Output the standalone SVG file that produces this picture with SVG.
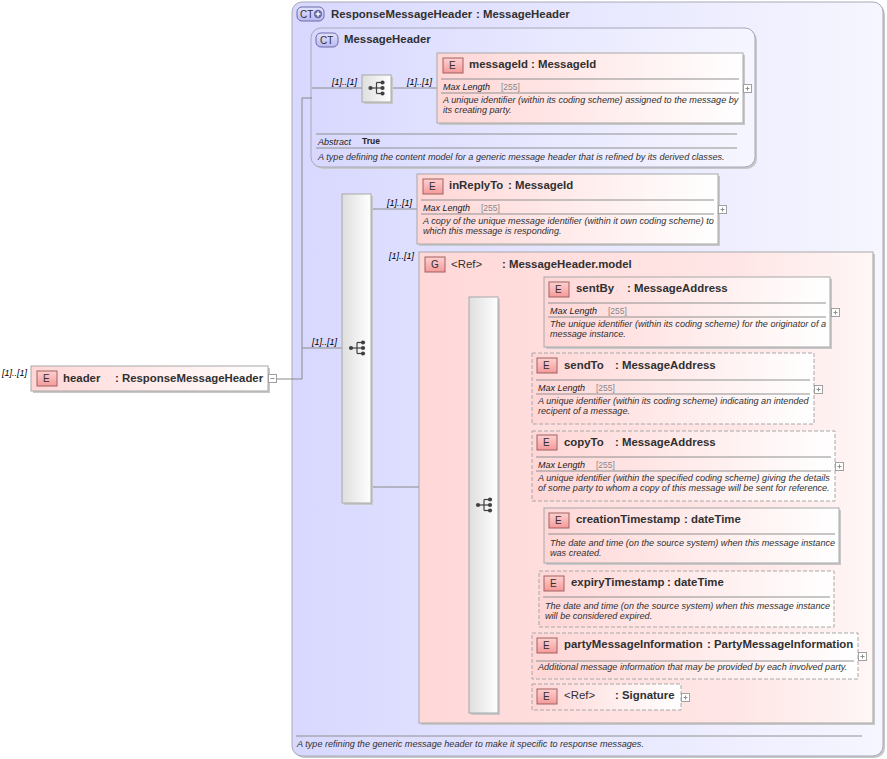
<svg xmlns="http://www.w3.org/2000/svg" width="887" height="759" viewBox="0 0 887 759">
<defs>
<linearGradient id="gCT" x1="0" y1="0" x2="1" y2="0"><stop offset="0" stop-color="#d8d8ff"/><stop offset="1" stop-color="#f6f6ff"/></linearGradient>
<linearGradient id="gE" x1="0" y1="0" x2="1" y2="0"><stop offset="0" stop-color="#ffd6d6"/><stop offset="1" stop-color="#ffffff"/></linearGradient>
<linearGradient id="gG" x1="0" y1="0" x2="1" y2="0"><stop offset="0" stop-color="#ffd8d8"/><stop offset="0.7" stop-color="#ffe6e6"/><stop offset="1" stop-color="#fff6f6"/></linearGradient>
<linearGradient id="gSeq" x1="0" y1="0" x2="1" y2="0"><stop offset="0" stop-color="#dedede"/><stop offset="1" stop-color="#ffffff"/></linearGradient>
<linearGradient id="gBadge" x1="0" y1="0" x2="0" y2="1"><stop offset="0" stop-color="#ffd0d0"/><stop offset="1" stop-color="#f59a9a"/></linearGradient>
<linearGradient id="gCTb" x1="0" y1="0" x2="0" y2="1"><stop offset="0" stop-color="#e4e4ff"/><stop offset="1" stop-color="#b8b8f0"/></linearGradient>
<g id="seqIcon" stroke="#404040" stroke-width="1.2" fill="#404040">
<line x1="-7" y1="0" x2="-1" y2="0"/>
<line x1="-1" y1="-5.5" x2="-1" y2="5.5"/>
<line x1="-1" y1="-5.5" x2="5" y2="-5.5"/>
<line x1="-1" y1="0" x2="5" y2="0"/>
<line x1="-1" y1="5.5" x2="5" y2="5.5"/>
<circle cx="-7" cy="0" r="2.1" stroke="none"/>
<circle cx="5" cy="-5.5" r="2.1" stroke="none"/>
<circle cx="5" cy="0" r="2.1" stroke="none"/>
<circle cx="5" cy="5.5" r="2.1" stroke="none"/>
</g>
<g id="plus" stroke="#909090" stroke-width="1">
<rect x="0.5" y="0.5" width="8" height="8" fill="#fff" stroke="#a0a0a0"/>
<line x1="2.5" y1="4.5" x2="6.5" y2="4.5"/>
<line x1="4.5" y1="2.5" x2="4.5" y2="6.5"/>
</g>
</defs>
<style>
text{font-family:"Liberation Sans",Arial,sans-serif;fill:#202020}
.t{font-size:11.4px;font-weight:bold;fill:#303030}
.r{font-size:11.4px;fill:#303030}
.ml{font-size:9px;font-style:italic;fill:#202020}
.mv{font-size:8.5px;fill:#888888}
.d{font-size:9.1px;font-style:italic;fill:#303030}
.lb{font-size:9px;font-style:italic;fill:#000}
.bt{font-size:10px;fill:#303030}
.box{fill:url(#gE);stroke:#a8a8a8;stroke-width:1}
.dash{fill:url(#gE);stroke:#a8a8a8;stroke-width:1;stroke-dasharray:4,2}
.sh{fill:#c8c8c8}
.sep{stroke:#909090;stroke-width:1}
.badge{fill:url(#gBadge);stroke:#a06060;stroke-width:1}
.ctb{fill:url(#gCTb);stroke:#6a6aa8;stroke-width:1}
.seq{fill:url(#gSeq);stroke:#a8a8a8;stroke-width:1}
.con{stroke:#8a8a8a;stroke-width:1;fill:none}
</style>

<!-- Outer CT box -->
<g id="ct-ResponseMessageHeader">
<rect x="294" y="4" width="591" height="754" rx="10" class="sh"/>
<rect x="292" y="2" width="591" height="754" rx="10" fill="url(#gCT)" stroke="#a8a8b8"/>
<rect x="297" y="7" width="27" height="14" rx="5" class="ctb"/>
<text x="300" y="18" class="bt">CT</text>
<circle cx="318" cy="14" r="4.2" fill="#6a6aa8"/>
<line x1="315.5" y1="14" x2="320.5" y2="14" stroke="#fff" stroke-width="1.4"/>
<line x1="318" y1="11.5" x2="318" y2="16.5" stroke="#fff" stroke-width="1.4"/>
<text x="331" y="18" class="t">ResponseMessageHeader</text>
<text x="476" y="18" class="t">: MessageHeader</text>
<line x1="296" y1="736" x2="862" y2="736" class="sep"/>
<text x="297" y="747" class="d">A type refining the generic message header to make it specific to response messages.</text>
</g>

<!-- Inner CT box -->
<g id="ct-MessageHeader">
<rect x="313" y="30" width="444" height="139" rx="10" class="sh"/>
<rect x="311" y="28" width="444" height="139" rx="10" fill="url(#gCT)" stroke="#a8a8b8"/>
<rect x="316" y="33" width="22" height="14" rx="5" class="ctb"/>
<text x="320" y="44" class="bt">CT</text>
<text x="344" y="43" class="t">MessageHeader</text>
<line x1="316" y1="134" x2="737" y2="134" class="sep"/>
<text x="318" y="145" class="ml">Abstract</text>
<text x="362" y="144" style="font-size:8.5px;font-weight:bold;fill:#202020">True</text>
<line x1="316" y1="148" x2="737" y2="148" class="sep"/>
<text x="318" y="160" class="d">A type defining the content model for a generic message header that is refined by its derived classes.</text>
</g>

<!-- Connectors -->
<g id="connectors">
<polyline points="276,379 302,379 302,98 312,98" class="con"/>
<line x1="302" y1="348" x2="342" y2="348" class="con"/>
<line x1="312" y1="88" x2="362" y2="88" class="con"/>
<line x1="391" y1="88" x2="437" y2="88" class="con"/>
<line x1="371" y1="209" x2="417" y2="209" class="con"/>
<line x1="371" y1="487" x2="419" y2="487" class="con"/>
<line x1="419" y1="505" x2="469" y2="505" class="con"/>
<line x1="498" y1="311" x2="544" y2="311" class="con"/>
<line x1="498" y1="388" x2="532" y2="388" class="con"/>
<line x1="498" y1="465" x2="532" y2="465" class="con"/>
<line x1="498" y1="537" x2="544" y2="537" class="con"/>
<line x1="498" y1="600" x2="539" y2="600" class="con"/>
<line x1="498" y1="656" x2="532" y2="656" class="con"/>
<line x1="498" y1="697" x2="532" y2="697" class="con"/>
<text x="2" y="376" class="lb">[1]..[1]</text>
<text x="312" y="345" class="lb">[1]..[1]</text>
<text x="332" y="85" class="lb">[1]..[1]</text>
<text x="407" y="85" class="lb">[1]..[1]</text>
<text x="387" y="206" class="lb">[1]..[1]</text>
<text x="389" y="259" class="lb">[1]..[1]</text>
<text x="440" y="502" class="lb">[1]..[1]</text>
<text x="514" y="309" class="lb">[1]..[1]</text>
<text x="515" y="385" class="lb">0..*</text>
<text x="515" y="462" class="lb">0..*</text>
<text x="514" y="533" class="lb">[1]..[1]</text>
<text x="515" y="597" class="lb">0..[1]</text>
<text x="515" y="652" class="lb">0..*</text>
<text x="515" y="694" class="lb">0..*</text>
</g>

<!-- header -->
<g id="el-header">
<rect x="33" y="368" width="237" height="25" class="sh"/>
<rect x="31" y="366" width="237" height="25" class="box"/>
<rect x="37" y="371" width="20" height="15" class="badge"/>
<text x="43" y="382" class="bt">E</text>
<text x="63" y="382" class="t">header</text>
<text x="115" y="382" class="t">: ResponseMessageHeader</text>
<rect x="268.5" y="374.5" width="8" height="8" fill="#fff" stroke="#a0a0a0"/>
<line x1="270.5" y1="378.5" x2="274.5" y2="378.5" stroke="#909090"/>
</g>

<!-- sequence in MessageHeader -->
<g id="seq-MessageHeader">
<rect x="364" y="77" width="29" height="27" class="sh"/>
<rect x="362" y="75" width="29" height="27" class="seq"/>
<use href="#seqIcon" x="377.5" y="88"/>
</g>

<!-- messageId -->
<g id="el-messageId">
<rect x="439" y="55" width="306" height="70" class="sh"/>
<rect x="437" y="53" width="306" height="70" class="box"/>
<rect x="443" y="58" width="20" height="15" class="badge"/>
<text x="449" y="69" class="bt">E</text>
<text x="469" y="68" class="t">messageId</text>
<text x="531" y="68" class="t">: MessageId</text>
<line x1="441" y1="79" x2="739" y2="79" class="sep"/>
<text x="443" y="90" class="ml">Max Length</text>
<text x="501" y="90" class="mv">[255]</text>
<line x1="441" y1="93" x2="739" y2="93" class="sep"/>
<text x="443" y="103" class="d">A unique identifier (within its coding scheme) assigned to the message by</text>
<text x="443" y="113" class="d">its creating party.</text>
<use href="#plus" x="743" y="84"/>
</g>

<!-- main sequence -->
<g id="seq-ResponseMessageHeader">
<rect x="344" y="196" width="29" height="309" class="sh"/>
<rect x="342" y="194" width="29" height="309" class="seq"/>
<use href="#seqIcon" x="358" y="348"/>
</g>

<!-- inReplyTo -->
<g id="el-inReplyTo">
<rect x="419" y="176" width="301" height="70" class="sh"/>
<rect x="417" y="174" width="301" height="70" class="box"/>
<rect x="423" y="179" width="20" height="15" class="badge"/>
<text x="429" y="190" class="bt">E</text>
<text x="449" y="189" class="t">inReplyTo</text>
<text x="508" y="189" class="t">: MessageId</text>
<line x1="421" y1="200" x2="714" y2="200" class="sep"/>
<text x="423" y="211" class="ml">Max Length</text>
<text x="481" y="211" class="mv">[255]</text>
<line x1="421" y1="214" x2="714" y2="214" class="sep"/>
<text x="423" y="224" class="d">A copy of the unique message identifier (within it own coding scheme) to</text>
<text x="423" y="234" class="d">which this message is responding.</text>
<use href="#plus" x="718" y="205"/>
</g>

<!-- group MessageHeader.model -->
<g id="grp-MessageHeader.model">
<rect x="421" y="254" width="454" height="471" class="sh"/>
<rect x="419" y="252" width="454" height="471" fill="url(#gG)" stroke="#a8a8a8"/>
<rect x="425" y="257" width="20" height="15" class="badge"/>
<text x="431" y="268" class="bt">G</text>
<text x="451" y="268" class="r">&lt;Ref&gt;</text>
<text x="502" y="268" class="t">: MessageHeader.model</text>
</g>

<!-- inner sequence -->
<g id="seq-model">
<rect x="471" y="299" width="29" height="416" class="sh"/>
<rect x="469" y="297" width="29" height="416" class="seq"/>
<use href="#seqIcon" x="485" y="505"/>
</g>

<!-- sentBy -->
<g id="el-sentBy">
<rect x="546" y="279" width="286" height="70" class="sh"/>
<rect x="544" y="277" width="286" height="70" class="box"/>
<rect x="549" y="282" width="20" height="15" class="badge"/>
<text x="555" y="293" class="bt">E</text>
<text x="576" y="292" class="t">sentBy</text>
<text x="627" y="292" class="t">: MessageAddress</text>
<line x1="548" y1="303" x2="826" y2="303" class="sep"/>
<text x="550" y="314" class="ml">Max Length</text>
<text x="608" y="314" class="mv">[255]</text>
<line x1="548" y1="317" x2="826" y2="317" class="sep"/>
<text x="550" y="327" class="d">The unique identifier (within its coding scheme) for the originator of a</text>
<text x="550" y="337" class="d">message instance.</text>
<use href="#plus" x="831" y="308"/>
</g>

<!-- sendTo -->
<g id="el-sendTo">
<rect x="532" y="353" width="282" height="71" class="dash"/>
<rect x="537" y="358" width="20" height="15" class="badge"/>
<text x="543" y="369" class="bt">E</text>
<text x="564" y="369" class="t">sendTo</text>
<text x="615" y="369" class="t">: MessageAddress</text>
<line x1="536" y1="380" x2="810" y2="380" class="sep"/>
<text x="538" y="391" class="ml">Max Length</text>
<text x="596" y="391" class="mv">[255]</text>
<line x1="536" y1="394" x2="810" y2="394" class="sep"/>
<text x="538" y="404" class="d">A unique identifier (within its coding scheme) indicating an intended</text>
<text x="538" y="414" class="d">recipent of a message.</text>
<use href="#plus" x="814" y="385"/>
</g>

<!-- copyTo -->
<g id="el-copyTo">
<rect x="532" y="431" width="303" height="70" class="dash"/>
<rect x="537" y="435" width="20" height="15" class="badge"/>
<text x="543" y="446" class="bt">E</text>
<text x="564" y="446" class="t">copyTo</text>
<text x="615" y="446" class="t">: MessageAddress</text>
<line x1="536" y1="457" x2="831" y2="457" class="sep"/>
<text x="538" y="468" class="ml">Max Length</text>
<text x="596" y="468" class="mv">[255]</text>
<line x1="536" y1="471" x2="831" y2="471" class="sep"/>
<text x="538" y="481" class="d">A unique identifier (within the specified coding scheme) giving the details</text>
<text x="538" y="491" class="d">of some party to whom a copy of this message will be sent for reference.</text>
<use href="#plus" x="835" y="462"/>
</g>

<!-- creationTimestamp -->
<g id="el-creationTimestamp">
<rect x="546" y="510" width="295" height="55" class="sh"/>
<rect x="544" y="508" width="295" height="55" class="box"/>
<rect x="549" y="513" width="20" height="15" class="badge"/>
<text x="555" y="524" class="bt">E</text>
<text x="576" y="523" class="t">creationTimestamp</text>
<text x="684" y="523" class="t">: dateTime</text>
<line x1="548" y1="534" x2="835" y2="534" class="sep"/>
<text x="550" y="546" class="d">The date and time (on the source system) when this message instance</text>
<text x="550" y="556" class="d">was created.</text>
</g>

<!-- expiryTimestamp -->
<g id="el-expiryTimestamp">
<rect x="539" y="571" width="295" height="56" class="dash"/>
<rect x="544" y="576" width="20" height="15" class="badge"/>
<text x="550" y="587" class="bt">E</text>
<text x="571" y="586" class="t">expiryTimestamp</text>
<text x="667" y="586" class="t">: dateTime</text>
<line x1="543" y1="597" x2="830" y2="597" class="sep"/>
<text x="545" y="609" class="d">The date and time (on the source system) when this message instance</text>
<text x="545" y="619" class="d">will be considered expired.</text>
</g>

<!-- partyMessageInformation -->
<g id="el-partyMessageInformation">
<rect x="532" y="633" width="326" height="46" class="dash"/>
<rect x="537" y="638" width="20" height="15" class="badge"/>
<text x="543" y="649" class="bt">E</text>
<text x="564" y="648" class="t">partyMessageInformation</text>
<text x="707" y="648" class="t">: PartyMessageInformation</text>
<line x1="536" y1="661" x2="854" y2="661" class="sep"/>
<text x="538" y="670" class="d">Additional message information that may be provided by each involved party.</text>
<use href="#plus" x="858" y="652"/>
</g>

<!-- Signature ref -->
<g id="el-Signature">
<rect x="532" y="684" width="149" height="26" class="dash"/>
<rect x="537" y="689" width="20" height="15" class="badge"/>
<text x="543" y="700" class="bt">E</text>
<text x="564" y="699" class="r">&lt;Ref&gt;</text>
<text x="615" y="699" class="t">: Signature</text>
<use href="#plus" x="681" y="693"/>
</g>
</svg>
